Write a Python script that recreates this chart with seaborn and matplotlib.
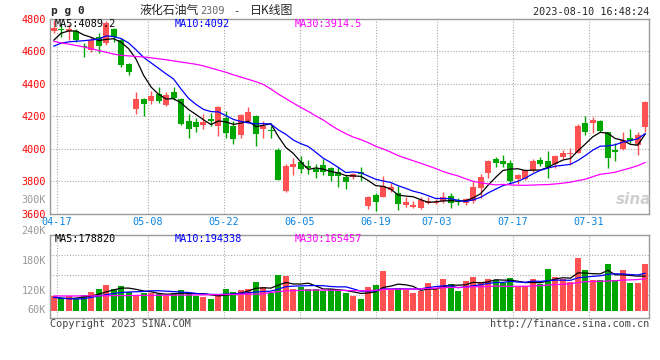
import numpy as np
import pandas as pd
import matplotlib
matplotlib.use('Agg')
import matplotlib.pyplot as plt
import seaborn as sns

# daily bars 04-17 .. 08-10 (LPG 2309)
opens = [4725, 4740, 4725, 4727, 4632, 4605, 4685, 4650, 4740, 4670,
         4520, 4245, 4305, 4296, 4340, 4270, 4350, 4305, 4170, 4165,
         4147, 4182, 4142, 4192, 4142, 4087, 4173, 4203, 4122, 4116,
         3995, 3742, 3890, 3920, 3893, 3878, 3900, 3884, 3856, 3825,
         3824, 3858, 3648, 3716, 3705, 3746, 3731, 3654, 3644, 3634,
         3665, 3665, 3681, 3710, 3679, 3665, 3679, 3757, 3850, 3937,
         3927, 3911, 3812, 3814, 3872, 3931, 3925, 3906, 3951, 3966,
         3976, 4161, 4157, 4171, 4102, 3990, 3997, 4068, 4023, 4132]
highs = [4793, 4765, 4770, 4735, 4650, 4690, 4715, 4785, 4745, 4680,
         4530, 4350, 4310, 4355, 4380, 4350, 4378, 4310, 4215, 4190,
         4212, 4222, 4262, 4230, 4170, 4215, 4260, 4205, 4172, 4140,
         4005, 3905, 3945, 3955, 3930, 3905, 3935, 3886, 3888, 3839,
         3850, 3886, 3710, 3730, 3833, 3790, 3771, 3705, 3679, 3705,
         3705, 3690, 3736, 3727, 3700, 3700, 3799, 3844, 3931, 3951,
         3962, 3931, 3845, 3876, 3935, 3950, 3988, 3960, 3990, 4003,
         4150, 4202, 4198, 4175, 4105, 4034, 4105, 4120, 4105, 4294]
lows = [4713, 4685, 4670, 4660, 4565, 4595, 4590, 4640, 4655, 4505,
        4455, 4215, 4200, 4278, 4280, 4265, 4300, 4148, 4068, 4105,
        4122, 4140, 4080, 4065, 4032, 4065, 4157, 4020, 4065, 4065,
        3808, 3735, 3840, 3852, 3845, 3823, 3840, 3804, 3765, 3751,
        3815, 3804, 3629, 3619, 3701, 3735, 3623, 3644, 3634, 3630,
        3658, 3660, 3668, 3634, 3652, 3655, 3665, 3695, 3818, 3890,
        3890, 3790, 3783, 3810, 3860, 3895, 3822, 3880, 3940, 3900,
        3972, 4085, 4096, 4105, 3884, 3927, 3993, 4034, 3962, 4105]
closes = [4745, 4730, 4735, 4670, 4625, 4670, 4630, 4772, 4690, 4515,
          4475, 4305, 4278, 4327, 4292, 4330, 4315, 4150, 4123, 4137,
          4167, 4170, 4259, 4095, 4060, 4205, 4228, 4092, 4138, 4108,
          3810, 3895, 3906, 3875, 3880, 3855, 3858, 3833, 3833, 3797,
          3845, 3845, 3705, 3675, 3774, 3762, 3660, 3675, 3654, 3685,
          3679, 3675, 3702, 3665, 3670, 3690, 3762, 3829, 3926, 3911,
          3906, 3804, 3839, 3870, 3925, 3908, 3890, 3955, 3976, 3972,
          4142, 4105, 4177, 4111, 3942, 3980, 4054, 4050, 4085, 4290]
volumes_k = [74.5, 65, 76, 63, 82, 99, 113, 134, 113, 129,
             99, 82, 91, 94, 87, 77, 91, 108, 94, 77,
             74, 62, 82, 113, 99, 108, 113, 151, 125, 91,
             185, 181, 113, 123, 113, 113, 103, 113, 103, 95,
             79, 62, 125, 134, 206, 112, 113, 108, 94, 104,
             145, 112, 164, 139, 104, 154, 175, 151, 164, 159,
             145, 171, 125, 129, 164, 137, 216, 175, 163, 151,
             274, 211, 159, 159, 242, 159, 211, 142, 142, 242]

# MA values at the left edge (need days before the window)
ma5_head = [4668, 4712, 4725, 4725]
ma10_head = [4632, 4650, 4658, 4662, 4665, 4670, 4675, 4695, 4690]
ma30_head = [4661, 4652, 4644, 4636, 4627, 4616, 4605, 4594, 4583, 4575,
             4572, 4568, 4565, 4560, 4554, 4548, 4541, 4534, 4527, 4520,
             4510, 4497, 4484, 4471, 4455, 4441, 4427, 4413, 4396]
vma5_head = [72, 66, 64, 66]
vma10_head = [70, 66, 63, 62, 63, 70, 77, 84, 90]
vma30_head = [77, 77, 77, 77, 78, 78, 78, 78, 79, 79,
              79, 80, 80, 80, 81, 81, 81, 82, 82, 83,
              83, 84, 84, 85, 85, 86, 87, 87, 88]

tick_idx = [0, 12, 22, 32, 42, 50, 60, 70]
tick_labels = ['04-17', '05-08', '05-22', '06-05', '06-19', '07-03', '07-17', '07-31']

RED = '#FF5151'
GREEN = '#00A600'
GRID = '#AAAAAA'
FRAME = '#999999'
MONO = ['DejaVu Sans Mono', 'Noto Sans CJK SC']
CJK = ['Noto Sans CJK SC', 'DejaVu Sans']


def moving(series, n, head):
    ma = series.rolling(n).mean()
    ma.iloc[:n - 1] = head
    return ma


df = pd.DataFrame({'open': opens, 'high': highs, 'low': lows,
                   'close': closes, 'volume': np.array(volumes_k) * 1000})
df['i'] = np.arange(len(df))
df['ma5'] = moving(df['close'], 5, ma5_head)
df['ma10'] = moving(df['close'], 10, ma10_head)
df['ma30'] = moving(df['close'], 30, ma30_head)
df['vma5'] = moving(df['volume'], 5, np.array(vma5_head) * 1000)
df['vma10'] = moving(df['volume'], 10, np.array(vma10_head) * 1000)
df['vma30'] = moving(df['volume'], 30, np.array(vma30_head) * 1000)
colors = np.where(df['close'] >= df['open'], RED, GREEN)

sns.set_theme(style='white')
plt.rcParams['font.family'] = MONO

W, H = 660, 360
fig = plt.figure(figsize=(6.6, 3.6), dpi=100)
fig.patch.set_facecolor('white')
ax = fig.add_axes([50 / W, 1 - 213.8 / H, 599 / W, 195 / H])
axv = fig.add_axes([50 / W, 1 - 318.3 / H, 599 / W, 83.6 / H])

# vertical grid positions follow the chart's own (slightly stretched) date spacing
grid_x = [d * 1.0157 + 0.4 for d in tick_idx]

for a in (ax, axv):
    a.set_facecolor('white')
    a.set_xlim(-0.5, 79.5)
    for s in a.spines.values():
        s.set_color(FRAME)
        s.set_linewidth(1)
    for gx in grid_x:
        a.axvline(gx, color=GRID, ls=(0, (1, 1.5)), lw=0.8, zorder=0)

# --- candles
ax.vlines(df['i'], df['low'], df['high'], colors=colors, lw=1, zorder=2)
body_bot = df[['open', 'close']].min(axis=1)
body_h = (df['close'] - df['open']).abs().clip(lower=6)
ax.bar(df['i'], body_h, bottom=body_bot, width=0.8, color=colors, linewidth=0, zorder=3)

sns.lineplot(x=df['i'], y=df['ma5'], ax=ax, color='black', lw=0.9, zorder=4)
sns.lineplot(x=df['i'], y=df['ma10'], ax=ax, color='#0000FF', lw=0.9, zorder=4)
sns.lineplot(x=df['i'], y=df['ma30'], ax=ax, color='#FF00FF', lw=0.9, zorder=4)

ax.set_ylim(3600, 4800)
ax.set_yticks(range(3600, 4801, 200))
ax.set_yticklabels([str(v) for v in range(3600, 4801, 200)])
for v in range(3800, 4700, 200):
    ax.axhline(v, color=GRID, ls=(0, (1, 1.5)), lw=0.8, zorder=0)
ax.set_xticks(grid_x)
ax.set_xticklabels(tick_labels)
ax.tick_params(axis='y', length=0, pad=3, labelcolor='#FF0000', labelsize=7.3)
ax.tick_params(axis='x', length=0, pad=2.5, labelcolor='#0A84E0', labelsize=7.3)
ax.set_xlabel('')
ax.set_ylabel('')
fig.text(46 / W, 1 - 200 / H, '300K', color=FRAME, fontsize=7.3, ha='right', va='center')

# --- volume
axv.bar(df['i'], df['volume'], width=0.8, color=colors, linewidth=0, zorder=2)
sns.lineplot(x=df['i'], y=df['vma5'], ax=axv, color='black', lw=0.9, zorder=4)
sns.lineplot(x=df['i'], y=df['vma10'], ax=axv, color='#0000FF', lw=0.9, zorder=4)
sns.lineplot(x=df['i'], y=df['vma30'], ax=axv, color='#FF00FF', lw=0.9, zorder=4)
axv.set_ylim(-37500, 392000)
axv.set_yticks([])
axv.set_xticks([])
axv.set_xlabel('')
axv.set_ylabel('')
for v in (82000, 185000, 288000):
    axv.axhline(v, color=GRID, ls=(0, (1, 1.5)), lw=0.8, zorder=0)
for lab, yp in (('240K', 231), ('180K', 260.7), ('120K', 290.5), ('60K', 310.3)):
    fig.text(46 / W, 1 - yp / H, lab, color=FRAME, fontsize=7.3, ha='right', va='center')

# --- MA captions
for txt, col, xp in (('MA5:4089.2', 'black', 55), ('MA10:4092', '#0000FF', 175),
                     ('MA30:3914.5', '#FF00FF', 295)):
    fig.text(xp / W, 1 - 23.7 / H, txt, color=col, fontsize=7.3, va='center')
for txt, col, xp in (('MA5:178820', 'black', 55), ('MA10:194338', '#0000FF', 175),
                     ('MA30:165457', '#FF00FF', 295)):
    fig.text(xp / W, 1 - 238.5 / H, txt, color=col, fontsize=7.3, va='center')

# --- header
fig.text(51 / W, 1 - 10.5 / H, 'p g 0', fontsize=8, fontweight='bold', va='center')
fig.text(140 / W, 1 - 10.5 / H, '液化石油气', fontsize=8.6, family=CJK, va='center')
fig.text(200 / W, 1 - 11 / H, '2309', fontsize=7.3, color='#666666', va='center')
fig.text(233 / W, 1 - 11 / H, '-', fontsize=7.3, va='center')
fig.text(250 / W, 1 - 10.5 / H, '日K线图', fontsize=8.6, family=CJK, va='center')
fig.text(649 / W, 1 - 12 / H, '2023-08-10 16:48:24', fontsize=7.3, ha='right', va='center')

# --- footer
fig.text(50 / W, 1 - 324 / H, 'Copyright 2023 SINA.COM', fontsize=7.3, color='#444444', va='center')
fig.text(649 / W, 1 - 324 / H, 'http://finance.sina.com.cn', fontsize=7.3, color='#444444',
         ha='right', va='center')
fig.text(634 / W, 1 - 199 / H, 'sina', fontsize=11, color='#CFCFCF', fontstyle='italic',
         fontweight='bold', family=['DejaVu Sans'], ha='center', va='center')

fig.savefig('out.png', dpi=100, facecolor='white')
